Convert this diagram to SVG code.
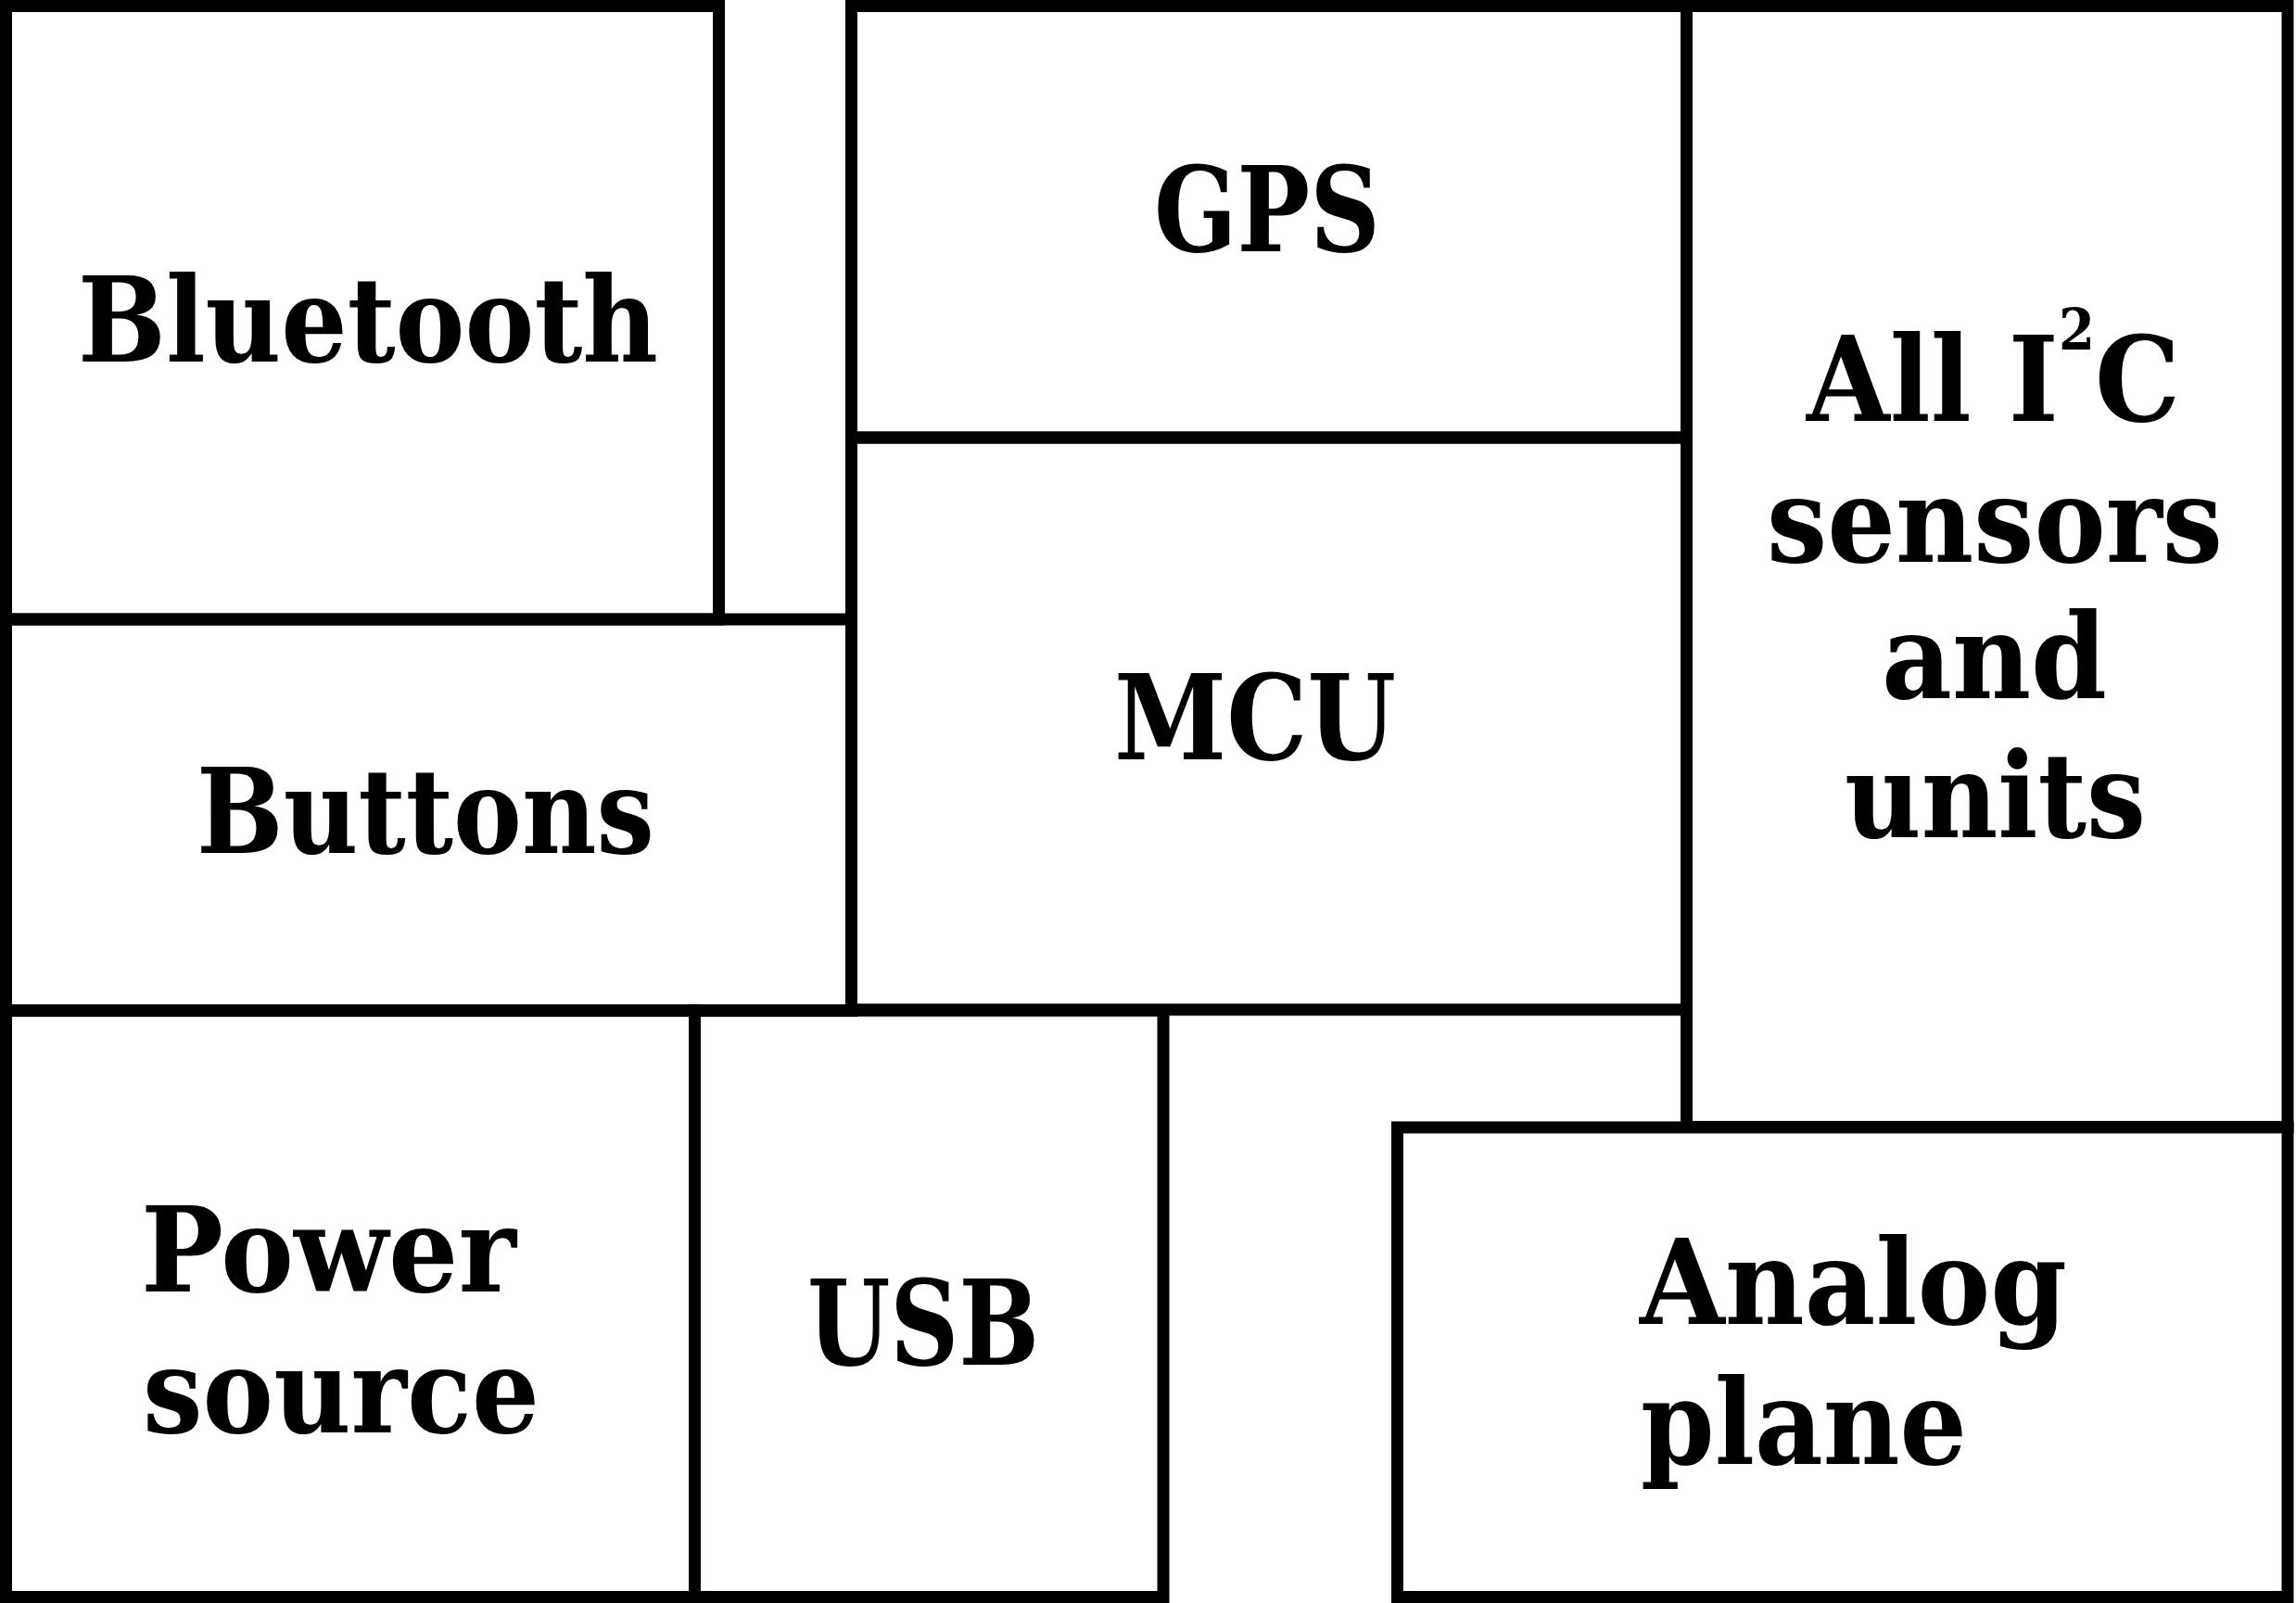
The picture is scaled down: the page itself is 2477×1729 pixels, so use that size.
<svg xmlns="http://www.w3.org/2000/svg" width="2477" height="1729" viewBox="0 0 2477 1729">
<style>
.box{fill:none;stroke:#000;stroke-width:13}
.lbl{font-family:"DejaVu Serif",serif;font-weight:bold;font-size:128px;fill:#000}
</style>
<rect x="0" y="0" width="2477" height="1729" fill="#fff"/>
<g id="connectors"></g>
<g id="bluetooth">
<rect class="box" x="6.5" y="6.5" width="769" height="661.5"/>
<text class="lbl" x="84" y="390" textLength="626" lengthAdjust="spacingAndGlyphs">Bluetooth</text>
</g>
<g id="buttons">
<rect class="box" x="6.5" y="668" width="912" height="422"/>
<text class="lbl" x="212" y="920" textLength="494" lengthAdjust="spacingAndGlyphs">Buttons</text>
</g>
<g id="gps">
<rect class="box" x="918.5" y="6.5" width="901" height="465.5"/>
<text class="lbl" x="1245" y="271" textLength="244" lengthAdjust="spacingAndGlyphs">GPS</text>
</g>
<g id="mcu">
<rect class="box" x="918.5" y="472" width="901" height="617"/>
<text class="lbl" x="1202" y="819" textLength="304" lengthAdjust="spacingAndGlyphs">MCU</text>
</g>
<g id="i2c">
<rect class="box" x="1819.5" y="6.5" width="648.5" height="1209"/>
<text class="lbl" x="1949" y="454" textLength="403" lengthAdjust="spacingAndGlyphs">All I<tspan font-size="62" dy="-77">2</tspan><tspan dy="77">C</tspan></text>
<text class="lbl" x="1906" y="606" textLength="492" lengthAdjust="spacingAndGlyphs">sensors</text>
<text class="lbl" x="2030" y="753" textLength="243" lengthAdjust="spacingAndGlyphs">and</text>
<text class="lbl" x="1990" y="903" textLength="325" lengthAdjust="spacingAndGlyphs">units</text>
</g>
<g id="power">
<rect class="box" x="6.5" y="1090" width="743" height="632.5"/>
<text class="lbl" x="152" y="1393" textLength="405" lengthAdjust="spacingAndGlyphs">Power</text>
<text class="lbl" x="154" y="1545" textLength="428" lengthAdjust="spacingAndGlyphs">source</text>
</g>
<g id="usb">
<rect class="box" x="749.5" y="1090" width="505.5" height="632.5"/>
<text class="lbl" x="871" y="1472" textLength="250" lengthAdjust="spacingAndGlyphs">USB</text>
</g>
<g id="analog">
<rect class="box" x="1507.5" y="1216" width="960.5" height="506.5"/>
<text class="lbl" x="1769" y="1428" textLength="461" lengthAdjust="spacingAndGlyphs">Analog</text>
<text class="lbl" x="1770" y="1579" textLength="352" lengthAdjust="spacingAndGlyphs">plane</text>
</g>
</svg>
